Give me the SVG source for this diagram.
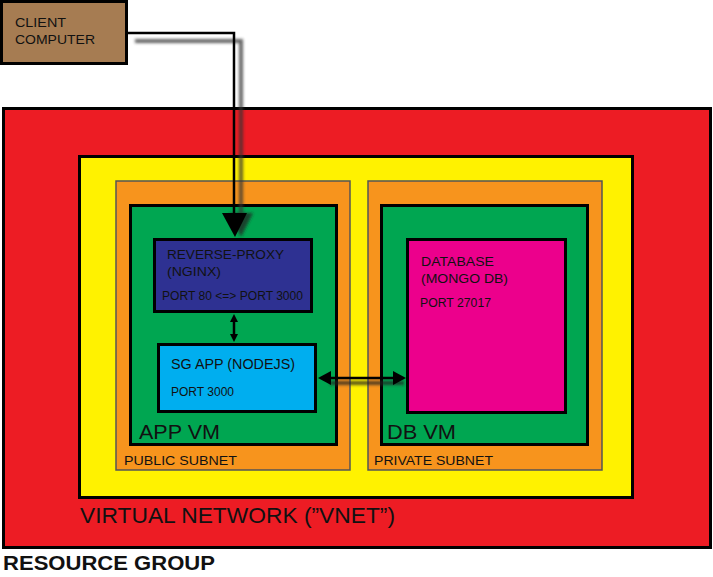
<svg xmlns="http://www.w3.org/2000/svg" width="713" height="577" viewBox="0 0 713 577">
<defs>
<style>
text{font-family:"Liberation Sans",Arial,sans-serif;fill:#111}
.box{stroke:#000;stroke-width:3}
.sub{stroke:#555;stroke-width:1.5}
.t13{font-size:13.5px}
.t12{font-size:12px}
.big{font-size:21px}
.con{stroke:#000;stroke-width:2.5;fill:none}
.shadow{filter:url(#blur);opacity:0.75}
</style>
<filter id="blur" x="-20%" y="-20%" width="140%" height="140%"><feGaussianBlur stdDeviation="1.8"/></filter>
</defs>
<rect width="713" height="577" fill="#fff"/>
<g id="resource-group">
<rect class="box" x="3.5" y="108.5" width="707" height="439" fill="#ED1C24"/>
<text x="3" y="570" style="font-size:21px;font-weight:bold" textLength="212" lengthAdjust="spacingAndGlyphs">RESOURCE GROUP</text>
</g>
<g id="vnet">
<rect class="box" x="79.5" y="156.5" width="553" height="341" fill="#FFF200"/>
<text x="80" y="523" style="font-size:22px" textLength="315" lengthAdjust="spacingAndGlyphs">VIRTUAL NETWORK (”VNET”)</text>
</g>
<g id="public-subnet">
<rect class="sub" x="116" y="181" width="234" height="289" fill="#F7941D"/>
<text x="124" y="465" style="font-size:13px" textLength="113" lengthAdjust="spacingAndGlyphs">PUBLIC SUBNET</text>
</g>
<g id="private-subnet">
<rect class="sub" x="368" y="181" width="234" height="289" fill="#F7941D"/>
<text x="374" y="465" style="font-size:13px" textLength="119" lengthAdjust="spacingAndGlyphs">PRIVATE SUBNET</text>
</g>
<g id="app-vm">
<rect class="box" x="130.5" y="205.5" width="206" height="239" fill="#00A651"/>
<text x="139" y="439" class="big" textLength="81" lengthAdjust="spacingAndGlyphs">APP VM</text>
</g>
<g id="db-vm">
<rect class="box" x="381.5" y="205.5" width="206" height="239" fill="#00A651"/>
<text x="387" y="439" class="big" textLength="69" lengthAdjust="spacingAndGlyphs">DB VM</text>
</g>
<g id="reverse-proxy">
<rect class="box" x="154.5" y="239.5" width="157" height="72" fill="#2E3192"/>
<text x="167" y="259" class="t13" textLength="117" lengthAdjust="spacingAndGlyphs">REVERSE-PROXY</text>
<text x="167" y="276" class="t13" textLength="54" lengthAdjust="spacingAndGlyphs">(NGINX)</text>
<text x="162" y="300" class="t12" textLength="141" lengthAdjust="spacingAndGlyphs">PORT 80 &lt;=&gt; PORT 3000</text>
</g>
<g id="sg-app">
<rect class="box" x="158.5" y="344.5" width="157" height="67" fill="#00AEEF"/>
<text x="171" y="369" style="font-size:14px" textLength="124" lengthAdjust="spacingAndGlyphs">SG APP (NODEJS)</text>
<text x="171" y="396" class="t12" textLength="63" lengthAdjust="spacingAndGlyphs">PORT 3000</text>
</g>
<g id="database">
<rect class="box" x="407.5" y="239.5" width="158" height="173" fill="#EC008C"/>
<text x="421" y="266" class="t13" textLength="73" lengthAdjust="spacingAndGlyphs">DATABASE</text>
<text x="421" y="283" class="t13" textLength="87" lengthAdjust="spacingAndGlyphs">(MONGO DB)</text>
<text x="420" y="307" class="t12" textLength="71" lengthAdjust="spacingAndGlyphs">PORT 27017</text>
</g>
<g id="client-computer">
<rect class="box" x="1.5" y="1.5" width="125" height="62" fill="#A67C52"/>
<text x="15" y="27" class="t13" textLength="51" lengthAdjust="spacingAndGlyphs">CLIENT</text>
<text x="15" y="44" class="t13" textLength="80" lengthAdjust="spacingAndGlyphs">COMPUTER</text>
</g>
<g id="connectors">
<g class="shadow">
<path d="M135,41 H241 V214" stroke="#333" stroke-width="4" fill="none"/>
<polygon points="229,213 253,213 241,237" fill="#222"/>
<path d="M330,383 H404" stroke="#222" stroke-width="4" fill="none"/>
</g>
<path class="con" d="M128,33 H234 V214"/>
<polygon points="222,213 247,213 235,237" fill="#000"/>
<path class="con" d="M234,318 V338" stroke-width="2"/>
<polygon points="230,322 238,322 234,314" fill="#000"/>
<polygon points="230,334 238,334 234,342" fill="#000"/>
<path class="con" d="M328,378 H396"/>
<polygon points="318,378 331,371 331,385" fill="#000"/>
<polygon points="406,378 393,371 393,385" fill="#000"/>
</g>
</svg>
